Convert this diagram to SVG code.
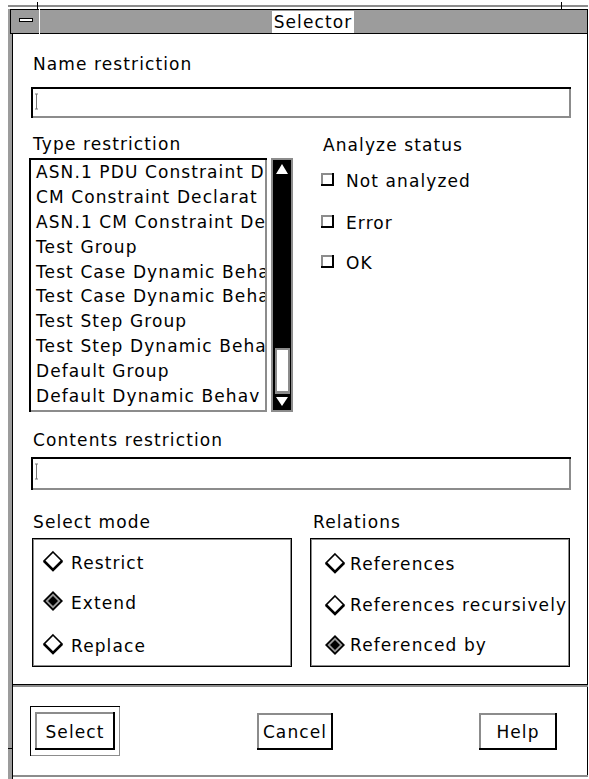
<svg xmlns="http://www.w3.org/2000/svg" width="589" height="779" viewBox="0 0 589 779">
<defs>
<clipPath id="listclip"><rect x="33" y="161" width="232" height="248"/></clipPath>
<style>
.t{font-family:"DejaVu Sans","Liberation Sans",sans-serif;font-size:17px;letter-spacing:1.1px;fill:#000}
.c{text-anchor:middle}
.lt{fill:#8c8c8c}
.dk{fill:#000}
.tb{fill:#9c9c9c}
</style>
</defs>
<rect width="589" height="779" fill="#fff"/>
<g id="frame">
<rect x="8" y="5" width="580" height="2" class="lt"/>
<rect x="37" y="2" width="1" height="8" class="dk"/>
<rect x="561" y="2" width="1" height="8" class="dk"/>
<rect x="8" y="9" width="5" height="770" class="tb"/>
<rect x="12" y="34" width="1" height="745" class="dk"/>
<rect x="587" y="34" width="1" height="743" class="dk"/>
<rect x="13" y="775" width="575" height="2" class="lt"/>
<rect x="8" y="748" width="5" height="1" class="dk"/>
</g>
<g id="titlebar">
<rect x="10" y="9" width="578" height="25" class="tb"/>
<rect x="10" y="9" width="578" height="1" class="dk"/>
<rect x="10" y="33" width="578" height="1" class="dk"/>
<rect x="587" y="9" width="1" height="25" class="dk"/>
<rect x="10" y="9" width="1" height="25" class="dk"/>
<rect x="39" y="9" width="1" height="25" fill="#fff"/>
<rect x="19.5" y="18.5" width="13" height="3" fill="#fff" stroke="#000" stroke-width="1"/>
<rect x="272" y="11" width="82" height="22" fill="#fff"/>
<text x="313" y="28" class="t c">Selector</text>
</g>
<g id="name-restriction">
<text x="33" y="70" class="t">Name restriction</text>
<rect x="31" y="87" width="540" height="31" fill="#fff"/>
<rect x="31" y="87" width="540" height="2" class="dk"/>
<rect x="31" y="87" width="2" height="31" class="dk"/>
<rect x="33" y="116" width="538" height="2" class="lt"/>
<rect x="569" y="89" width="2" height="29" class="lt"/>
<path d="M35 94h3M36.5 94v15M35 109h3" stroke="#777" stroke-width="1" fill="none"/>
</g>
<g id="type-restriction">
<text x="33" y="150" class="t">Type restriction</text>
<rect x="29" y="158" width="238" height="254" fill="#fff"/>
<rect x="29" y="158" width="238" height="2" class="dk"/>
<rect x="29" y="158" width="2" height="254" class="dk"/>
<rect x="31" y="410" width="236" height="2" class="lt"/>
<rect x="265" y="160" width="2" height="252" class="lt"/>
<g clip-path="url(#listclip)">
<text x="36" y="178" class="t">ASN.1 PDU Constraint D</text>
<text x="36" y="203" class="t">CM Constraint Declarat</text>
<text x="36" y="228" class="t">ASN.1 CM Constraint De</text>
<text x="36" y="253" class="t">Test Group</text>
<text x="36" y="278" class="t">Test Case Dynamic Beha</text>
<text x="36" y="302" class="t">Test Case Dynamic Beha</text>
<text x="36" y="327" class="t">Test Step Group</text>
<text x="36" y="352" class="t">Test Step Dynamic Beha</text>
<text x="36" y="377" class="t">Default Group</text>
<text x="36" y="402" class="t">Default Dynamic Behav</text>
</g>
</g>
<g id="scrollbar">
<rect x="271" y="158" width="22" height="254" class="lt"/>
<rect x="273" y="160" width="18" height="250" class="dk"/>
<polygon points="282,164 276,174 288,174" fill="#fff"/>
<rect x="275" y="348" width="15" height="46" class="lt"/>
<rect x="277" y="350" width="11" height="41" fill="#fff"/>
<polygon points="276,397 288,397 282,406" fill="#fff"/>
</g>
<g id="analyze-status">
<text x="323" y="151" class="t">Analyze status</text>
<g id="cb-not-analyzed">
<rect x="321" y="173" width="13" height="13" fill="#fff"/>
<rect x="321" y="173" width="13" height="2" class="lt"/>
<rect x="321" y="173" width="2" height="13" class="lt"/>
<rect x="321" y="184" width="13" height="2" class="dk"/>
<rect x="332" y="173" width="2" height="13" class="dk"/>
<text x="346" y="187" class="t">Not analyzed</text>
</g>
<g id="cb-error">
<rect x="321" y="215" width="13" height="13" fill="#fff"/>
<rect x="321" y="215" width="13" height="2" class="lt"/>
<rect x="321" y="215" width="2" height="13" class="lt"/>
<rect x="321" y="226" width="13" height="2" class="dk"/>
<rect x="332" y="215" width="2" height="13" class="dk"/>
<text x="346" y="229" class="t">Error</text>
</g>
<g id="cb-ok">
<rect x="321" y="255" width="13" height="13" fill="#fff"/>
<rect x="321" y="255" width="13" height="2" class="lt"/>
<rect x="321" y="255" width="2" height="13" class="lt"/>
<rect x="321" y="266" width="13" height="2" class="dk"/>
<rect x="332" y="255" width="2" height="13" class="dk"/>
<text x="346" y="269" class="t">OK</text>
</g>
</g>
<g id="contents-restriction">
<text x="33" y="446" class="t">Contents restriction</text>
<rect x="31" y="457" width="540" height="33" fill="#fff"/>
<rect x="31" y="457" width="540" height="2" class="dk"/>
<rect x="31" y="457" width="2" height="33" class="dk"/>
<rect x="33" y="488" width="538" height="2" class="lt"/>
<rect x="569" y="459" width="2" height="31" class="lt"/>
<path d="M35 464h3M36.5 464v15M35 479h3" stroke="#777" stroke-width="1" fill="none"/>
</g>
<g id="select-mode">
<text x="33" y="528" class="t">Select mode</text>
<rect x="32.5" y="538.5" width="259" height="128" fill="none" stroke="#000" stroke-width="1"/>
<rect x="33.5" y="539.5" width="257" height="126" fill="none" stroke="#8c8c8c" stroke-width="1"/>
<g id="rb-restrict">
<polygon points="53,552 62,561 53,570 44,561" fill="#fff" stroke="#000" stroke-width="1.6"/>
<path d="M44 561L53 570L62 561" fill="none" stroke="#000" stroke-width="2.6"/>
<text x="71" y="569" class="t">Restrict</text>
</g>
<g id="rb-extend">
<polygon points="53,591 63,601 53,611 43,601" class="dk"/>
<polygon points="53,593.5 60.5,601 53,608.5 45.5,601" fill="#9c9c9c"/>
<polygon points="53,596 58,601 53,606 48,601" class="dk"/>
<text x="71" y="609" class="t">Extend</text>
</g>
<g id="rb-replace">
<polygon points="53,635 62,644 53,653 44,644" fill="#fff" stroke="#000" stroke-width="1.6"/>
<path d="M44 644L53 653L62 644" fill="none" stroke="#000" stroke-width="2.6"/>
<text x="71" y="652" class="t">Replace</text>
</g>
</g>
<g id="relations">
<text x="313" y="528" class="t">Relations</text>
<rect x="310.5" y="538.5" width="259" height="128" fill="none" stroke="#000" stroke-width="1"/>
<rect x="311.5" y="539.5" width="257" height="126" fill="none" stroke="#8c8c8c" stroke-width="1"/>
<g id="rb-references">
<polygon points="335,554 344,563 335,572 326,563" fill="#fff" stroke="#000" stroke-width="1.6"/>
<path d="M326 563L335 572L344 563" fill="none" stroke="#000" stroke-width="2.6"/>
<text x="350" y="570" class="t">References</text>
</g>
<g id="rb-references-recursively">
<polygon points="335,596 344,605 335,614 326,605" fill="#fff" stroke="#000" stroke-width="1.6"/>
<path d="M326 605L335 614L344 605" fill="none" stroke="#000" stroke-width="2.6"/>
<text x="350" y="611" class="t">References recursively</text>
</g>
<g id="rb-referenced-by">
<polygon points="335,635 345,645 335,655 325,645" class="dk"/>
<polygon points="335,637.5 342.5,645 335,652.5 327.5,645" fill="#9c9c9c"/>
<polygon points="335,640 340,645 335,650 330,645" class="dk"/>
<text x="350" y="651" class="t">Referenced by</text>
</g>
</g>
<g id="separator">
<rect x="13" y="684" width="575" height="1" class="dk"/>
<rect x="13" y="685" width="575" height="2" class="lt"/>
</g>
<g id="btn-select">
<rect x="30" y="706" width="90" height="1" class="dk"/>
<rect x="30" y="706" width="1" height="50" class="dk"/>
<rect x="31" y="755" width="89" height="1" class="lt"/>
<rect x="119" y="707" width="1" height="49" class="lt"/>
<rect x="35" y="712" width="80" height="38" fill="#fff"/>
<rect x="35" y="712" width="80" height="2" class="lt"/>
<rect x="35" y="712" width="2" height="38" class="lt"/>
<rect x="35" y="748" width="80" height="2" class="dk"/>
<rect x="113" y="712" width="2" height="38" class="dk"/>
<text x="75" y="738" class="t c">Select</text>
</g>
<g id="btn-cancel">
<rect x="257" y="713" width="76" height="37" fill="#fff"/>
<rect x="257" y="713" width="76" height="2" class="lt"/>
<rect x="257" y="713" width="2" height="37" class="lt"/>
<rect x="257" y="748" width="76" height="2" class="dk"/>
<rect x="331" y="713" width="2" height="37" class="dk"/>
<text x="295" y="738" class="t c">Cancel</text>
</g>
<g id="btn-help">
<rect x="479" y="713" width="78" height="37" fill="#fff"/>
<rect x="479" y="713" width="78" height="2" class="lt"/>
<rect x="479" y="713" width="2" height="37" class="lt"/>
<rect x="479" y="748" width="78" height="2" class="dk"/>
<rect x="555" y="713" width="2" height="37" class="dk"/>
<text x="518" y="738" class="t c">Help</text>
</g>
<g id="connectors"></g>
</svg>
